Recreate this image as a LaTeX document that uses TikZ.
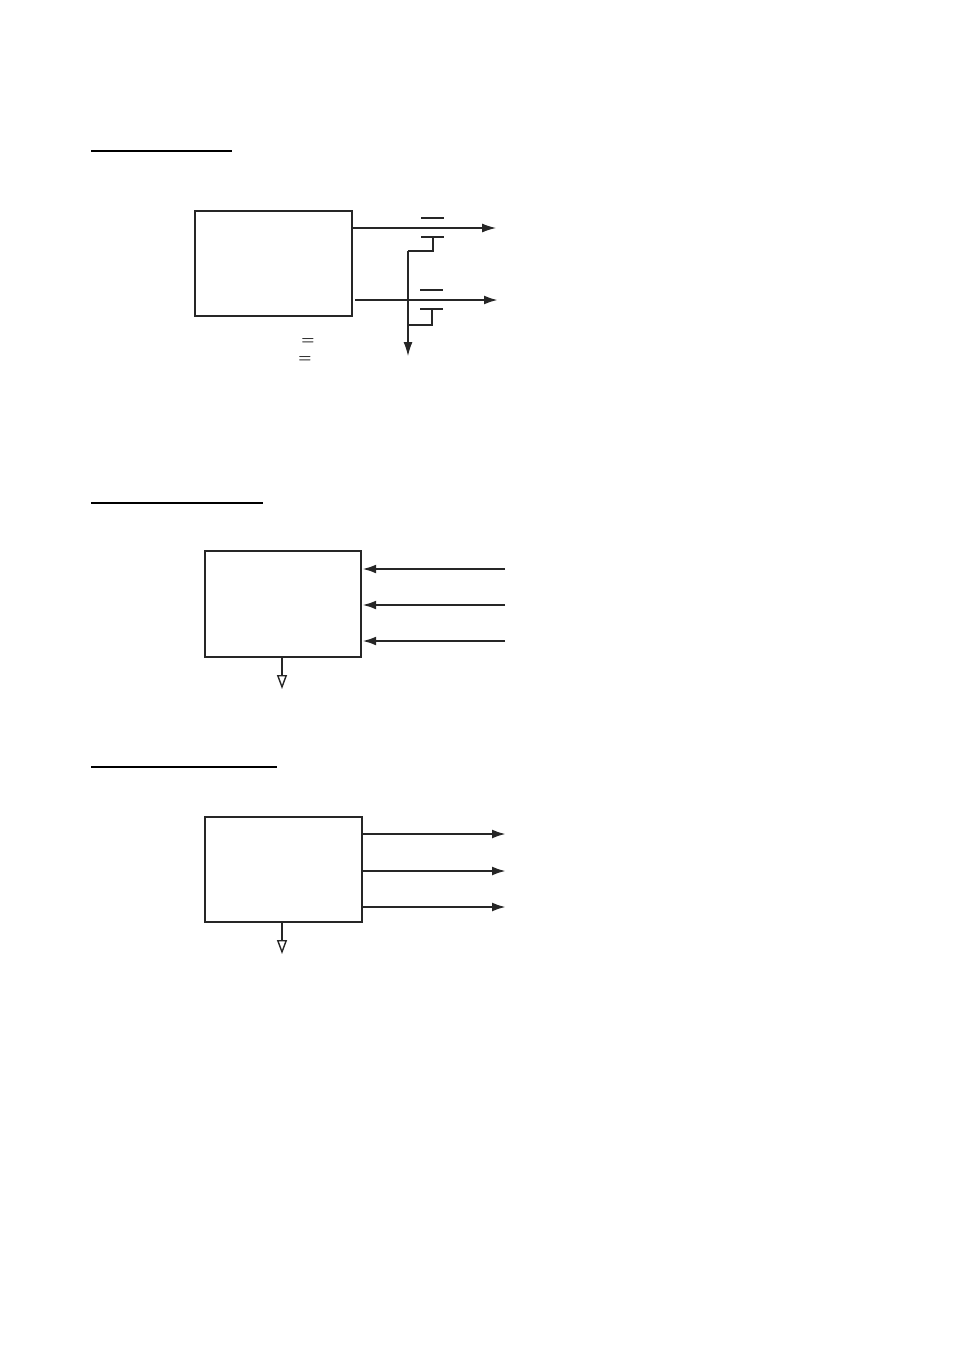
\documentclass[tikz,border=0pt]{standalone}
\usetikzlibrary{arrows.meta}
\definecolor{ink}{HTML}{262626}
\tikzset{
  blk/.style={draw=ink, line width=2.2pt, minimum width=157pt, minimum height=105pt, inner sep=0pt, anchor=north west},
  uline/.style={line width=2.4pt, black},
  thin/.style={draw=ink, line width=1.2pt},
  thick/.style={draw=ink, line width=2.4pt},
  fa/.style={-{Latex[length=14pt,width=9pt]}},
  oa/.style={-{Triangle[open,length=14pt,width=10pt,line width=1.4pt]}},
  eq/.style={font=\fontsize{15}{17}\selectfont\bfseries, inner sep=0pt, text=black}
}
\begin{document}
\begin{tikzpicture}[x=1pt,y=-1pt]
\useasboundingbox (0,0) rectangle (954,1350);
% section 1
\draw[uline] (91,151) coordinate (u1a) -- (232,151) coordinate (u1b);
\node[blk] (b1) at (194,210) {};
\coordinate (o1) at (496,228);
\coordinate (o2) at (498,300);
\draw[thin,fa] (b1.east |- o1) -- (o1);
\draw[thick,fa] ([xshift=2pt]b1.east |- o2) -- (o2);
\draw[thick] (421,218) coordinate (ob1a) -- (444,218) coordinate (ob1b);
\draw[thick] (421,237) coordinate (t1a) -- (444,237) coordinate (t1b);
\draw[thin] (420,290) coordinate (ob2a) -- (443,290) coordinate (ob2b);
\draw[thin] (420,309) coordinate (t2a) -- (443,309) coordinate (t2b);
\coordinate (s1) at (433,237);
\coordinate (s2) at (432,309);
\coordinate (dn) at (408,356);
\draw[thick] (s1) -- (433,251) -- (408,251);
\draw[thin,fa] (408,251) -- (dn);
\draw[thick] (s2) -- (432,325) -- (407,325);
\node[eq] (eq1) at (308,342) {=};
\node[eq] (eq2) at (305,360) {=};
% section 2
\draw[uline] (91,503) coordinate (u2a) -- (263,503) coordinate (u2b);
\node[blk, minimum width=156pt, minimum height=106pt] (b2) at (204,550) {};
\foreach \y/\n in {569/a,605/b,641/c}{
  \coordinate (i\n) at (505,\y);
  \draw[thick,fa] (i\n) -- (b2.east |- i\n);
}
\coordinate (g2) at (282,689);
\draw[thin,oa] (b2.south -| g2) -- (g2);
% section 3
\draw[uline] (91,767) coordinate (u3a) -- (277,767) coordinate (u3b);
\node[blk] (b3) at (204,816) {};
\foreach \y/\n in {834/a,871/b,907/c}{
  \coordinate (q\n) at (506,\y);
  \draw[thick,fa] (b3.east |- q\n) -- (q\n);
}
\coordinate (g3) at (282,954);
\draw[thick,oa] (b3.south -| g3) -- (g3);
\end{tikzpicture}
\end{document}
